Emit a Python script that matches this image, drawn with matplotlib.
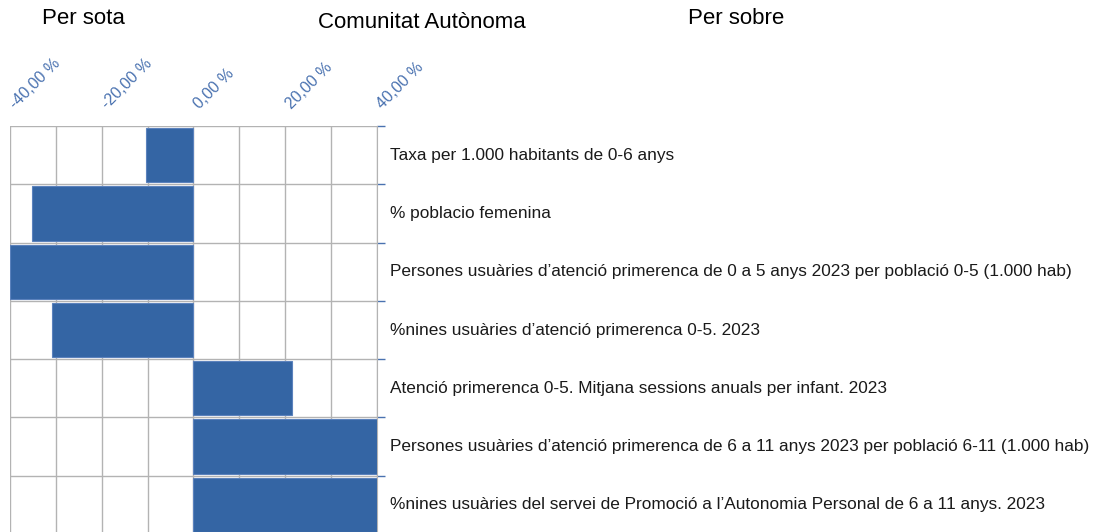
import matplotlib.pyplot as plt
import matplotlib.transforms as mtransforms
import numpy as np

categories = [
    "Taxa per 1.000 habitants de 0-6 anys",
    "% poblacio femenina",
    "Persones usuàries d\u2019atenció primerenca de 0 a 5 anys 2023 per població 0-5 (1.000 hab)",
    "%nines usuàries d\u2019atenció primerenca 0-5. 2023",
    "Atenció primerenca 0-5. Mitjana sessions anuals per infant. 2023",
    "Persones usuàries d\u2019atenció primerenca de 6 a 11 anys 2023 per població 6-11 (1.000 hab)",
    "%nines usuàries del servei de Promoció a l\u2019Autonomia Personal de 6 a 11 anys. 2023",
]
values = [-10.3, -35.3, -40.0, -30.9, 21.4, 40.0, 40.0]
tick_values = [-40, -20, 0, 20, 40]
tick_labels = ["-40,00 %", "-20,00 %", "0,00 %", "20,00 %", "40,00 %"]

plt.rcParams["font.family"] = ["Liberation Sans", "DejaVu Sans"]
W, H = 1109, 532
fig = plt.figure(figsize=(W / 100, H / 100), dpi=100)
ax = fig.add_axes([10 / W, -2 / H, 367 / W, 408 / H])

n = len(categories)
ypos = np.arange(n)
ax.barh(ypos, values, height=0.93, color="#3465a4", edgecolor="#5b82bd",
        linewidth=0.8, zorder=3)
ax.set_xlim(-40, 40)
ax.set_ylim(n - 0.5, -0.5)

# grid
ax.set_xticks(np.arange(-40, 41, 10))
ax.tick_params(axis="x", length=0, labelbottom=False)
ax.grid(axis="x", color="#b3b3b3", linewidth=1, zorder=0)
for b in np.arange(-0.5, n, 1.0):
    ax.axhline(b, color="#b3b3b3", linewidth=1, zorder=1)

# tick marks on the right edge at row boundaries
ax.set_yticks(np.arange(-0.5, n, 1.0))
ax.yaxis.tick_right()
ax.tick_params(axis="y", length=6, width=1, color="#4a72b0", labelright=False)
for s in ["left", "top", "bottom"]:
    ax.spines[s].set_visible(False)
ax.spines["right"].set_color("#b3b3b3")

# rotated top labels
for v, lab in zip(tick_values, tick_labels):
    ax.annotate(lab, xy=(v, 1), xycoords=("data", "axes fraction"),
                xytext=(6, 16), textcoords="offset pixels", rotation=45,
                rotation_mode="anchor", ha="left", va="baseline",
                fontsize=11.5, color="#4a72b0", annotation_clip=False)

# category labels
trans = mtransforms.blended_transform_factory(fig.transFigure, ax.transData)
for y, c in zip(ypos, categories):
    ax.text(390 / W, y, c, transform=trans, ha="left", va="center",
            fontsize=12.4, color="#1a1a1a", clip_on=False)

# header titles
fig.text(42 / W, 1 - 18 / H, "Per sota", ha="left", va="center", fontsize=16)
fig.text(422 / W, 1 - 22 / H, "Comunitat Autònoma", ha="center", va="center", fontsize=16)
fig.text(688 / W, 1 - 18 / H, "Per sobre", ha="left", va="center", fontsize=16)

fig.savefig("out.png", dpi=100, facecolor="white")
